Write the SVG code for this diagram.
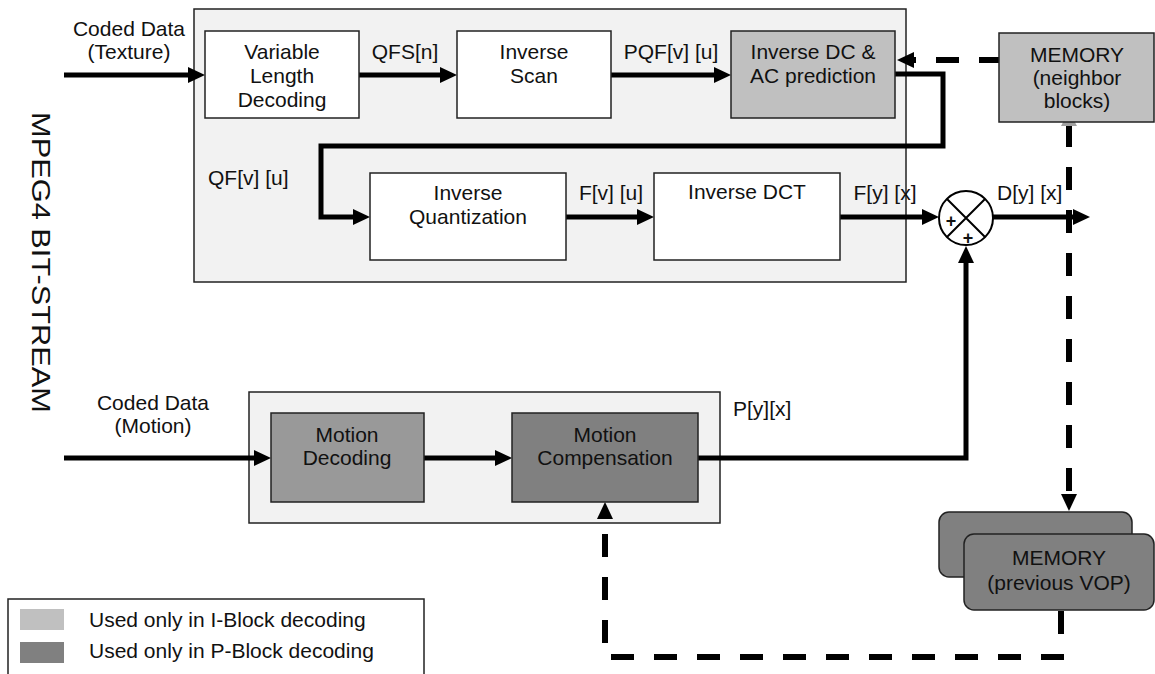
<svg xmlns="http://www.w3.org/2000/svg" width="1155" height="674" viewBox="0 0 1155 674">
<style>
  text { font-family: "Liberation Sans", Arial, sans-serif; font-size: 21px; fill: #111; }
  .c { text-anchor: middle; }
  .container { fill: #f2f2f2; stroke: #222; stroke-width: 1.5; }
  .box { stroke: #222; stroke-width: 1.5; }
  .white { fill: #ffffff; }
  .light { fill: #c0c0c0; }
  .mid { fill: #999999; }
  .dark { fill: #808080; }
  .flow { fill: none; stroke: #000; stroke-width: 5; }
  .dash { fill: none; stroke: #000; stroke-width: 6; stroke-dasharray: 23 20; }
</style>
<defs>
  <marker id="arr" markerUnits="userSpaceOnUse" markerWidth="17" markerHeight="16" refX="5" refY="8" orient="auto">
    <path d="M0,0 L17,8 L0,16 z" fill="#000"/>
  </marker>
</defs>
<rect width="1155" height="674" fill="#ffffff"/>

<g id="bitstream-label">
  <text transform="translate(32,112) rotate(90)" textLength="301" lengthAdjust="spacingAndGlyphs" style="font-size:26px">MPEG4 BIT-STREAM</text>
</g>

<g id="texture-container"><rect class="container" x="194" y="9" width="712" height="273"/></g>
<g id="motion-container"><rect class="container" x="249" y="392" width="471" height="131"/></g>

<g id="connectors">
  <path class="flow" d="M64,75 H193" marker-end="url(#arr)"/>
  <path class="flow" d="M359,75 H445" marker-end="url(#arr)"/>
  <path class="flow" d="M611,75 H719" marker-end="url(#arr)"/>
  <path class="flow" d="M895,74 H943 V146 H321 V217 H358" marker-end="url(#arr)"/>
  <path class="flow" d="M566,217 H642" marker-end="url(#arr)"/>
  <path class="flow" d="M840,217 H927" marker-end="url(#arr)"/>
  <path class="flow" d="M993,217 H1078" marker-end="url(#arr)"/>
  <path class="flow" d="M64,458 H259" marker-end="url(#arr)"/>
  <path class="flow" d="M424,458 H500" marker-end="url(#arr)"/>
  <path class="flow" d="M698,458 H966 V258" marker-end="url(#arr)"/>
  <path class="dash" d="M1002,60 H909" marker-end="url(#arr)"/>
  <path class="dash" d="M1069,124 V499" marker-end="url(#arr)"/>
  <path d="M1069,111 L1077,126 L1061,126 z" fill="#a0a0a0"/>
  <path class="dash" d="M1061,611 V657 H605 V514" marker-end="url(#arr)"/>
</g>

<g id="input-texture">
  <text class="c" x="129" y="36">Coded Data</text>
  <text class="c" x="129" y="59">(Texture)</text>
</g>
<g id="input-motion">
  <text class="c" x="153" y="410">Coded Data</text>
  <text class="c" x="153" y="433">(Motion)</text>
</g>

<g id="vld">
  <rect class="box white" x="205" y="31" width="154" height="87"/>
  <text class="c" x="282" y="59">Variable</text>
  <text class="c" x="282" y="83">Length</text>
  <text class="c" x="282" y="107">Decoding</text>
</g>
<g id="inverse-scan">
  <rect class="box white" x="457" y="31" width="154" height="87"/>
  <text class="c" x="534" y="59">Inverse</text>
  <text class="c" x="534" y="83">Scan</text>
</g>
<g id="inverse-dc-ac">
  <rect class="box light" x="731" y="31" width="164" height="87"/>
  <text class="c" x="813" y="59">Inverse DC &amp;</text>
  <text class="c" x="813" y="83">AC prediction</text>
</g>
<g id="memory-neighbor">
  <rect class="box light" x="999" y="33" width="155" height="89"/>
  <text class="c" x="1077" y="62">MEMORY</text>
  <text class="c" x="1077" y="85">(neighbor</text>
  <text class="c" x="1077" y="108">blocks)</text>
</g>
<g id="inverse-quant">
  <rect class="box white" x="370" y="173" width="196" height="87"/>
  <text class="c" x="468" y="200">Inverse</text>
  <text class="c" x="468" y="224">Quantization</text>
</g>
<g id="inverse-dct">
  <rect class="box white" x="654" y="173" width="186" height="87"/>
  <text class="c" x="747" y="199">Inverse DCT</text>
</g>
<g id="adder">
  <circle cx="966" cy="218" r="27" fill="#ffffff" stroke="#000" stroke-width="2"/>
  <path d="M947,199 L985,237 M985,199 L947,237" stroke="#000" stroke-width="2"/>
  <text class="c" x="951" y="227" style="font-size:18px;font-weight:bold">+</text>
  <text class="c" x="968" y="244" style="font-size:18px;font-weight:bold">+</text>
</g>
<g id="motion-decoding">
  <rect class="box mid" x="271" y="413" width="153" height="89"/>
  <text class="c" x="347" y="442">Motion</text>
  <text class="c" x="347" y="465">Decoding</text>
</g>
<g id="motion-compensation">
  <rect class="box dark" x="512" y="413" width="186" height="89"/>
  <text class="c" x="605" y="442">Motion</text>
  <text class="c" x="605" y="465">Compensation</text>
</g>
<g id="memory-vop">
  <rect class="box dark" x="939" y="512" width="193" height="65" rx="10"/>
  <rect class="box dark" x="964" y="534" width="190" height="76" rx="10"/>
  <text class="c" x="1059" y="565">MEMORY</text>
  <text class="c" x="1059" y="590">(previous VOP)</text>
</g>

<g id="labels">
  <text class="c" x="405" y="59">QFS[n]</text>
  <text class="c" x="671" y="59">PQF[v] [u]</text>
  <text x="208" y="185">QF[v] [u]</text>
  <text class="c" x="611" y="200">F[v] [u]</text>
  <text class="c" x="885" y="200">F[y] [x]</text>
  <text x="997" y="200">D[y] [x]</text>
  <text x="733" y="416">P[y][x]</text>
</g>

<g id="legend">
  <rect x="8" y="599" width="416" height="85" fill="#ffffff" stroke="#222" stroke-width="1.5"/>
  <rect x="20" y="609" width="44" height="21" class="light"/>
  <rect x="20" y="642" width="44" height="21" class="dark"/>
  <text x="89" y="627">Used only in I-Block decoding</text>
  <text x="89" y="658">Used only in P-Block decoding</text>
</g>
</svg>
